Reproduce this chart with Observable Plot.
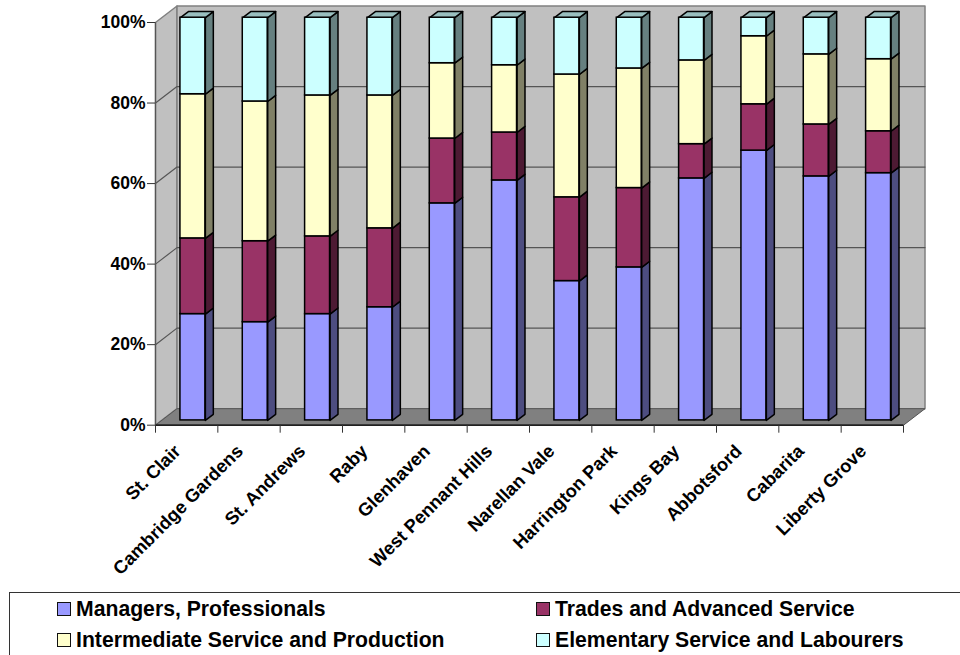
<!DOCTYPE html>
<html><head><meta charset="utf-8">
<script src="https://cdn.jsdelivr.net/npm/d3@7"></script>
<script src="https://cdn.jsdelivr.net/npm/@observablehq/plot@0.6"></script>
<style>
html,body{margin:0;padding:0;background:#fff;width:960px;height:655px;overflow:hidden;font-family:"Liberation Sans",Arial,sans-serif}
#chart{position:absolute;left:0;top:0}
#legend{position:absolute;left:9px;top:592px;width:951px;height:63px;border-left:1px solid #333;border-top:1px solid #333;font-weight:bold;font-size:21.2px;color:#000}
.it{position:absolute;white-space:nowrap;line-height:22px}
.sw{position:absolute;width:12px;height:12px;border:1.5px solid #111}
</style></head><body>
<div id="chart"></div><div id="legend"></div>
<script>
const categories = ["St. Clair","Cambridge Gardens","St. Andrews","Raby","Glenhaven","West Pennant Hills","Narellan Vale","Harrington Park","Kings Bay","Abbotsford","Cabarita","Liberty Grove"];
const seriesNames = ["Managers, Professionals","Trades and Advanced Service","Intermediate Service and Production","Elementary Service and Labourers"];
const managers     = [26.4,24.4,26.4,28.1,53.9,59.6,34.6,38.0,60.1,67.0,60.6,61.4];
const trades       = [18.8,20.1,19.3,19.6,16.1,11.9,20.8,19.7, 8.5,11.5,12.9,10.4];
const intermediate = [35.8,34.7,35.0,33.0,18.7,16.7,30.5,29.7,20.8,16.9,17.4,17.9];
const elementary   = [19.0,20.8,19.3,19.3,11.3,11.8,14.1,12.6,10.6, 4.6, 9.1,10.3];
const seriesValues = [managers,trades,intermediate,elementary];
const frontColors = ["#9999ff","#993366","#ffffcc","#ccffff"];
const sideColors  = ["#4d4d80","#4d1a33","#808066","#668080"];
const topColors   = ["#7373bf","#73264d","#bfbf99","#99bfbf"];
const yTicks = [0,20,40,60,80,100];

// oblique depth: z 0 = front of the floor, 1 = back wall
const DX = 0.345, DY = 4.1, Z0 = 0.29, Z1 = 0.66, HALF = 0.2;
const P = (x,v,z,id,fill) => ({x:x+z*DX, y:v+z*DY, id, fill});
const quad = (id,fill,pts) => [...pts,pts[0]].map(([x,v,z]) => P(x,v,z,id,fill));

const walls = [
  ...quad("left","#c0c0c0",[[0,0,0],[0,100,0],[0,100,1],[0,0,1]]),
  ...quad("back","#c0c0c0",[[0,0,1],[12,0,1],[12,100,1],[0,100,1]])
];
const floor = quad("floor","#808080",[[0,0,0],[12,0,0],[12,0,1],[0,0,1]]);
const grid = yTicks.slice(1,-1).flatMap(v => [P(0,v,0,"g"+v),P(0,v,1,"g"+v),P(12,v,1,"g"+v)]);

const fronts = [], faces = [];
categories.forEach((c,i) => {
  let base = 0;
  seriesValues.forEach((vals,s) => {
    const top = base + vals[i], a = i+.5-HALF, b = i+.5+HALF;
    faces.push(...quad(`side${i}-${s}`,sideColors[s],[[b,base,Z0],[b,base,Z1],[b,top,Z1],[b,top,Z0]]));
    if (s === 3) faces.push(...quad(`top${i}`,topColors[s],[[a,top,Z0],[b,top,Z0],[b,top,Z1],[a,top,Z1]]));
    const o = P(a,base,Z0), t = P(b,top,Z0);
    fronts.push({x1:o.x,x2:t.x,y1:o.y,y2:t.y,fill:frontColors[s]});
    base = top;
  });
});

const chart = Plot.plot({
  width:960,height:590,
  marginLeft:155,marginRight:57,marginTop:22,marginBottom:165.3,
  x:{type:"linear",domain:[0,12],axis:null},
  y:{type:"linear",domain:[0,100],axis:null},
  style:{background:"#fff",fontFamily:"'Liberation Sans',Arial,sans-serif"},
  marks:[
    Plot.line(walls,{x:"x",y:"y",z:"id",fill:"#c0c0c0",stroke:"#808080",strokeWidth:1.5,curve:"linear"}),
    Plot.line(floor,{x:"x",y:"y",z:"id",fill:"#808080",stroke:"#555",strokeWidth:1,curve:"linear"}),
    Plot.line(grid,{x:"x",y:"y",z:"id",stroke:"#555",strokeWidth:1.2,curve:"linear"}),
    Plot.line(faces,{x:"x",y:"y",z:"id",fill:d=>d.fill,stroke:"#000",strokeWidth:1.5,curve:"linear"}),
    Plot.rect(fronts,{x1:"x1",x2:"x2",y1:"y1",y2:"y2",fill:d=>d.fill,stroke:"#000",strokeWidth:1.5,inset:0}),
    Plot.ruleY([0],{x1:0,x2:12,stroke:"#000",strokeWidth:1.2}),
    Plot.ruleX([0],{y1:0,y2:100,stroke:"#555",strokeWidth:1.2}),
    Plot.axisY({ticks:yTicks,tickSize:8,tickPadding:2,tickFormat:d=>d+"%",fontSize:17.5,fontWeight:"bold",fill:"#000",stroke:"#333",label:null}),
    Plot.axisX({ticks:d3.range(13),tickSize:8,tickFormat:()=>"",stroke:"#333",label:null}),
    Plot.axisX({ticks:categories.map((c,i)=>i+.5),tickSize:0,tickRotate:-45,tickPadding:23,dx:-9,tickFormat:v=>categories[v-.5],fontSize:18.3,fontWeight:"bold",fill:"#000",label:null,textOverflow:null})
  ]
});
document.getElementById("chart").append(chart);

const lg = document.getElementById("legend");
const cols = [[47,66],[526,545]], rows = [5,36];
[[0,0,0],[1,1,0],[2,0,1],[3,1,1]].forEach(([s,c,r]) => {
  const sw = document.createElement("div"); sw.className="sw";
  sw.style.cssText=`left:${cols[c][0]}px;top:${rows[r]+4}px;background:${frontColors[s]}`;
  const t = document.createElement("div"); t.className="it";
  t.style.cssText=`left:${cols[c][1]}px;top:${rows[r]}px`;
  t.textContent=seriesNames[s];
  lg.append(sw,t);
});
</script></body></html>
